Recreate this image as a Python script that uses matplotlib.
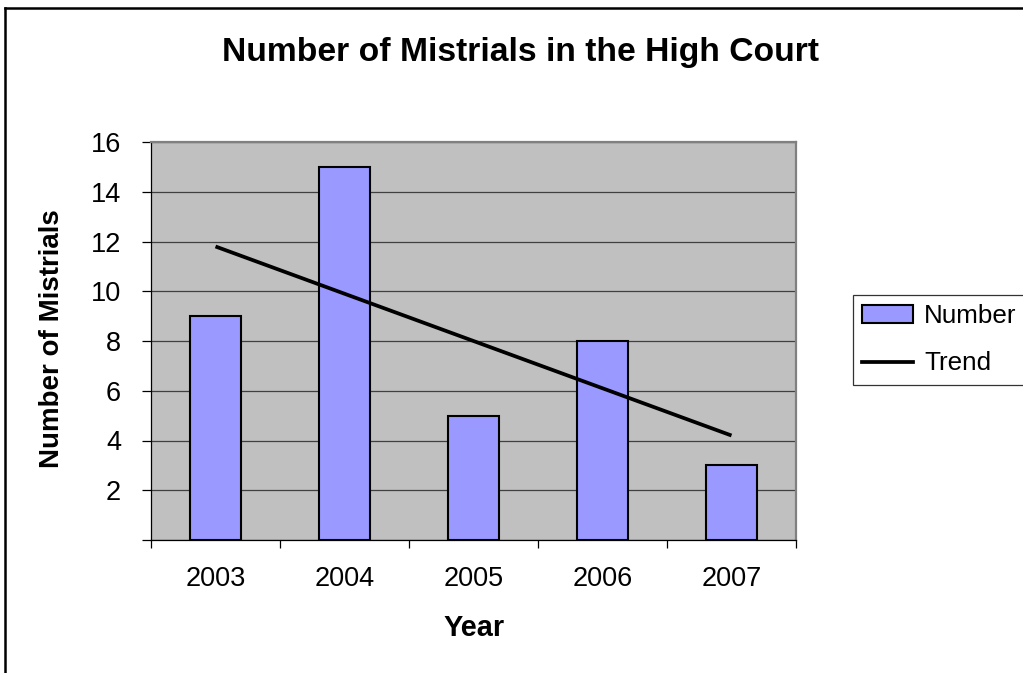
import numpy as np
import matplotlib
matplotlib.use('Agg')
import matplotlib.pyplot as plt
from matplotlib.lines import Line2D
from matplotlib.patches import Patch

years = ['2003', '2004', '2005', '2006', '2007']
mistrials = [9, 15, 5, 8, 3]
trend = [11.8, 9.9, 8.0, 6.1, 4.2]
yticks = [2, 4, 6, 8, 10, 12, 14, 16]

plt.rcParams['font.family'] = ['Liberation Sans', 'DejaVu Sans']

fig = plt.figure(figsize=(10.23, 6.73), dpi=100)
W, H = 1023, 673
ax = fig.add_axes([151 / W, 1 - 540 / H, (796 - 151) / W, (540 - 142) / H])

x = np.arange(1, len(years) + 1)

ax.set_facecolor('#C0C0C0')
ax.bar(x, mistrials, width=0.4, color='#9999FF', edgecolor='black', linewidth=1.5, zorder=3)
ax.plot(x, trend, color='black', linewidth=2.7, solid_capstyle='butt', zorder=4)

ax.set_xlim(0.5, 5.5)
ax.set_ylim(0, 16)

# y axis: ticks every 2, no label at 0
ax.set_yticks([0] + yticks)
ax.set_yticklabels([''] + [str(v) for v in yticks])
ax.yaxis.grid(True, color='#404040', linewidth=0.9, zorder=1)
ax.tick_params(axis='y', length=6.5, width=0.9, pad=15, labelsize=19.5, color='black')

# x axis: labels at centres, tick marks at boundaries
ax.set_xticks(x)
ax.set_xticklabels(years)
ax.set_xticks(np.arange(0.5, 6.0, 1.0), minor=True)
ax.tick_params(axis='x', which='major', length=0, pad=19, labelsize=19.5)
ax.tick_params(axis='x', which='minor', length=6, width=0.9, color='black')

for side in ['top', 'right']:
    ax.spines[side].set_color('#808080')
    ax.spines[side].set_linewidth(1.6)
for side in ['left', 'bottom']:
    ax.spines[side].set_color('black')
    ax.spines[side].set_linewidth(0.9)

fig.text(521 / W, 1 - 52 / H, 'Number of Mistrials in the High Court',
         ha='center', va='center', fontsize=24.2, fontweight='bold')
fig.text(52 / W, 1 - 339 / H, 'Number of Mistrials', rotation=90,
         ha='center', va='center', fontsize=20, fontweight='bold')
fig.text(474 / W, 1 - 628 / H, 'Year', ha='center', va='center',
         fontsize=20.8, fontweight='bold')

# outer chart frame (left and top edges visible)
fig.add_artist(Line2D([5 / W, 5 / W], [0, 1 - 8 / H], color='black', linewidth=1.8,
                      transform=fig.transFigure))
fig.add_artist(Line2D([5 / W, 1], [1 - 8 / H, 1 - 8 / H], color='black', linewidth=1.8,
                      transform=fig.transFigure))

handles = [Patch(facecolor='#9999FF', edgecolor='black', linewidth=1.5),
           Line2D([], [], color='black', linewidth=2.7)]
leg = fig.legend(handles, ['Number', 'Trend'], loc='upper left',
                 bbox_to_anchor=(853 / W, 1 - 295 / H), borderaxespad=0,
                 fontsize=18.7, frameon=True, fancybox=False, edgecolor='black',
                 handlelength=1.95, handleheight=0.65, handletextpad=0.43,
                 borderpad=0.35, labelspacing=0.9)
leg.get_frame().set_linewidth(0.9)

fig.savefig('out.png', dpi=100)
